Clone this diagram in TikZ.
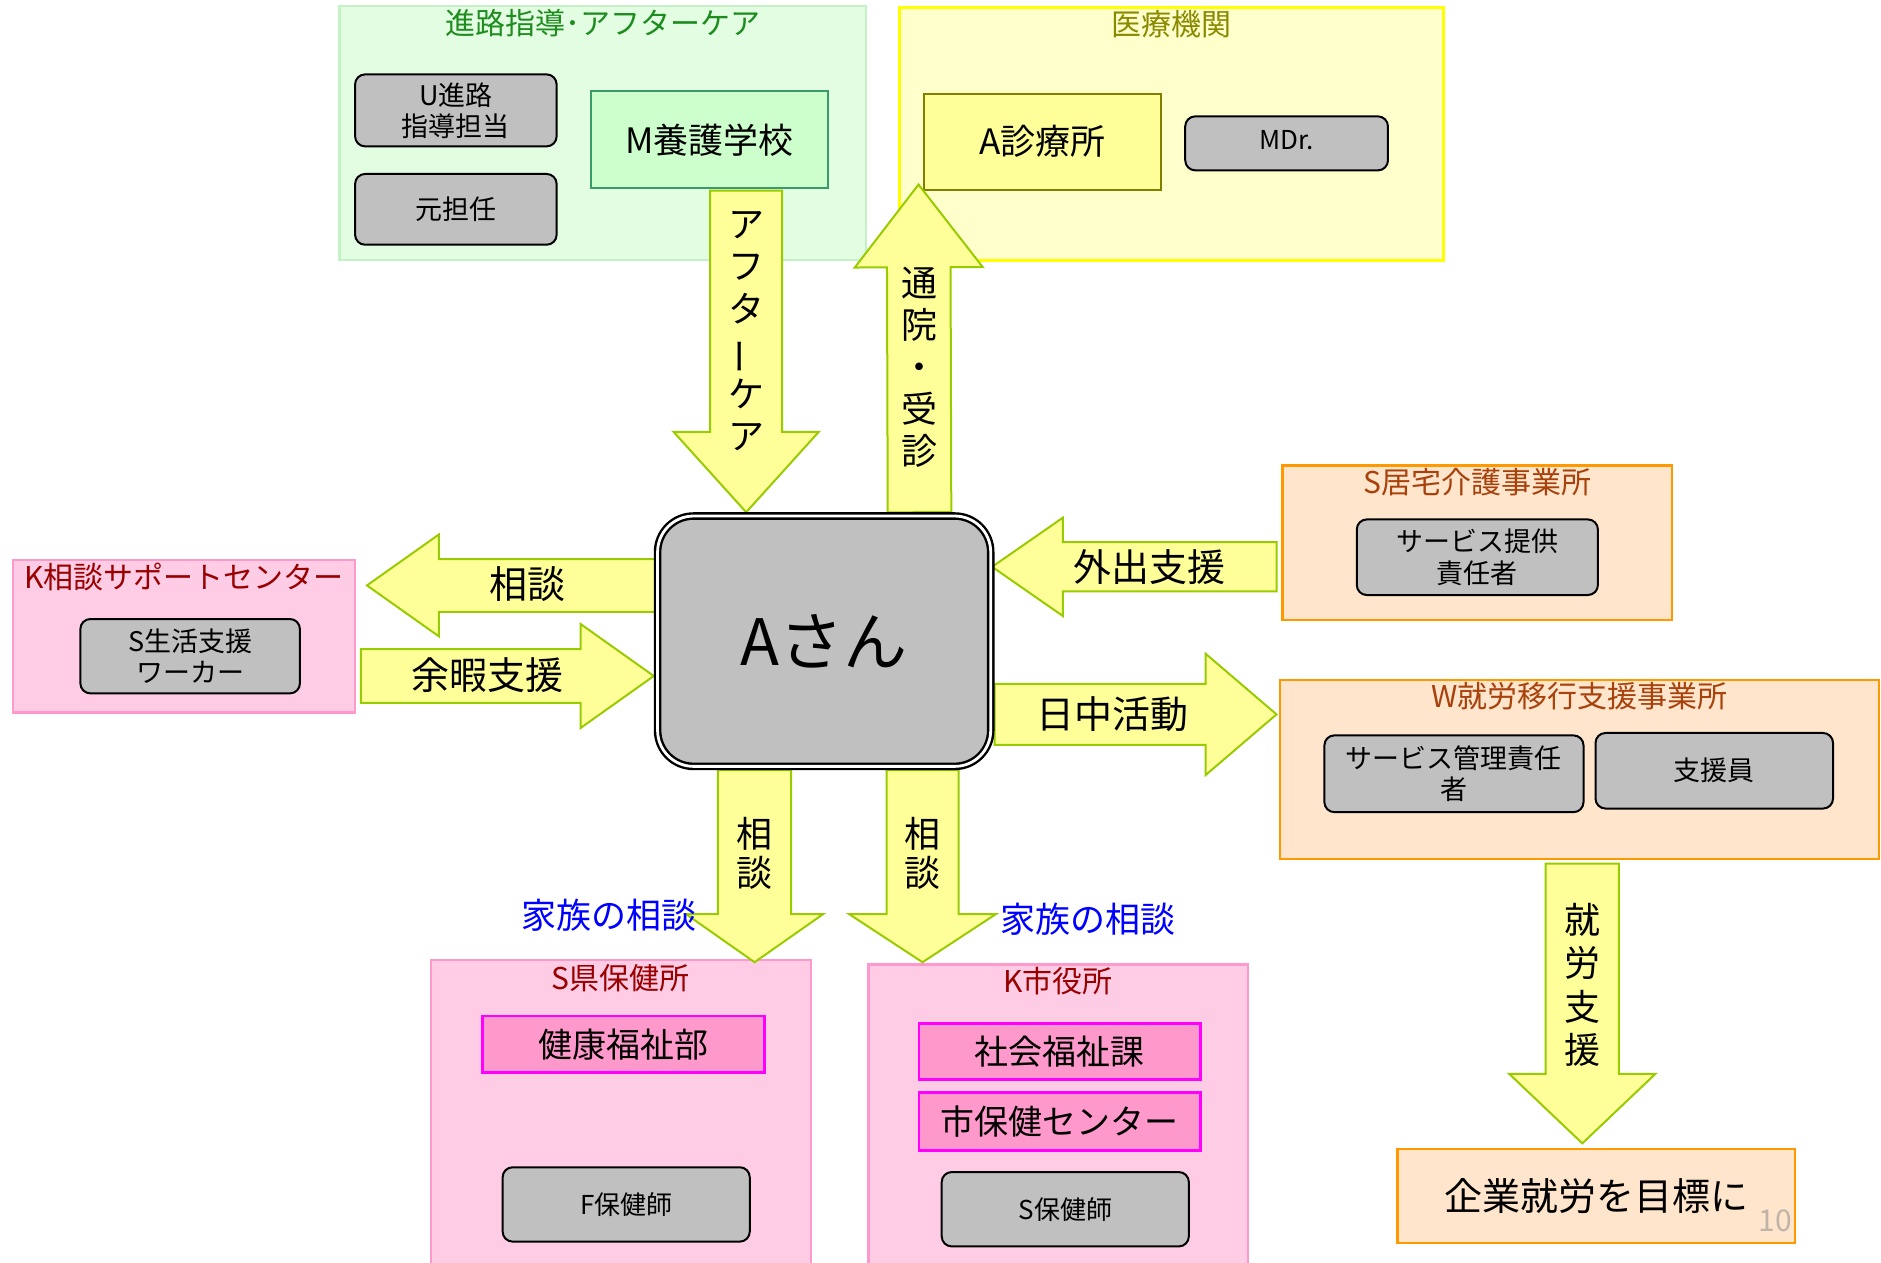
\documentclass[tikz,border=0pt]{standalone}
\usepackage{fontspec}
\setmainfont{Noto Sans CJK JP}
\usetikzlibrary{calc}
\pgfdeclarelayer{front}
\pgfsetlayers{main,front}
\definecolor{arrfill}{HTML}{FFFF99}
\definecolor{arrdraw}{HTML}{99CC00}
\definecolor{grayfill}{HTML}{C0C0C0}
\definecolor{grnfill}{HTML}{E3FDE3}
\definecolor{grndraw}{HTML}{C4F2C4}
\definecolor{grntitle}{HTML}{1E8C1E}
\definecolor{mfill}{HTML}{CCFFCC}
\definecolor{mdraw}{HTML}{3A9A6A}
\definecolor{ylwfill}{HTML}{FFFFCC}
\definecolor{ylwdraw}{HTML}{FFFF00}
\definecolor{ylwtitle}{HTML}{8A8A00}
\definecolor{clinfill}{HTML}{FFFF99}
\definecolor{clindraw}{HTML}{808000}
\definecolor{pnkfill}{HTML}{FFCCE5}
\definecolor{pnkdraw}{HTML}{FF99CC}
\definecolor{pnktitle}{HTML}{990000}
\definecolor{magfill}{HTML}{FF99CC}
\definecolor{magdraw}{HTML}{FF00FF}
\definecolor{pchfill}{HTML}{FFE5CC}
\definecolor{pchdraw}{HTML}{FF9900}
\definecolor{pchtitle}{HTML}{A8420C}
\definecolor{famblue}{HTML}{0000FF}
\definecolor{pgnum}{HTML}{C0B4A8}
\newcommand\blockarrow[6]{%
  \coordinate (#6-h) at ($(#2)!#5!(#1)$);
  \draw[barrow] ($(#1)!#3!90:(#2)$) -- ($(#6-h)!#3!90:(#2)$) -- ($(#6-h)!#4!90:(#2)$) -- (#2)
    -- ($(#6-h)!#4!-90:(#2)$) -- ($(#6-h)!#3!-90:(#2)$) -- ($(#1)!#3!-90:(#2)$) -- cycle;}
\begin{document}
\begin{tikzpicture}[x=0.6pt,y=-0.6pt,
  sz/.style 2 args={minimum width=#1*0.6pt,minimum height=#2*0.6pt},
  grp/.style={draw, line width=1.1pt, inner sep=0pt},
  gbox/.style={draw=black, fill=grayfill, rounded corners=5pt, line width=1pt, inner sep=0pt, align=center, font=\fontsize{13.5}{15.6}\selectfont},
  ttl/.style={inner sep=0pt, font=\fontsize{15}{18}\selectfont},
  lbl/.style={inner sep=0pt, font=\fontsize{19}{22}\selectfont},
  vlbl/.style={inner sep=0pt, align=center, font=\fontsize{18}{21.2}\selectfont},
  magbox/.style={draw=magdraw, fill=magfill, line width=1.4pt, inner sep=0pt, font=\fontsize{17}{20}\selectfont},
  barrow/.style={draw=arrdraw, fill=arrfill, line width=1pt, line join=miter},
]
\useasboundingbox (0,0) rectangle (1568,1052);
\fill[white] (0,0) rectangle (1568,1052);

% group: career guidance
\node[grp, draw=grndraw, fill=grnfill, sz={439}{212}] (G) at (502.5,111) {};
\node[ttl, text=grntitle] (Gt) at ($(G.north)+(0,15)$) {進路指導･アフターケア};
\node[gbox, sz={168}{60}] (U) at (380,92) {U進路\\指導担当};
\node[gbox, sz={168}{59}] (T) at (380,174.5) {元担任};
\node[draw=mdraw, fill=mfill, line width=1pt, inner sep=0pt, sz={197}{81}, font=\fontsize{17.5}{20}\selectfont] (M) at (591.5,116.5) {M養護学校};

% group: medical
\node[grp, draw=ylwdraw, fill=ylwfill, line width=1.4pt, sz={453}{211}] (Y) at (976.5,111.5) {};
\node[ttl, text=ylwtitle] (Yt) at ($(Y.north)+(0,15)$) {医療機関};
\node[draw=clindraw, fill=clinfill, line width=1pt, inner sep=0pt, sz={198}{80}, font=\fontsize{17.5}{20}\selectfont] (C) at (869,118) {A診療所};
\node[gbox, sz={169}{45}, font=\fontsize{13}{15}\selectfont] (Dr) at (1072.5,119.5) {\raisebox{3pt}{MDr.}};

% group: K support center
\node[grp, draw=pnkdraw, fill=pnkfill, sz={285}{127}] (K) at (153.5,530.5) {};
\node[ttl, text=pnktitle] (Kt) at ($(K.north)+(0,15)$) {K相談サポートセンター};
\node[gbox, sz={183}{62}] (SW) at (158.5,547) {S生活支援\\ワーカー};

% group: home care
\node[grp, draw=pchdraw, fill=pchfill, sz={325}{129}] (SK) at (1231.5,452.5) {};
\node[ttl, text=pchtitle] (SKt) at ($(SK.north)+(0,15)$) {S居宅介護事業所};
\node[gbox, sz={201}{63}] (SP) at (1231.5,464.5) {サービス提供\\責任者};

% group: W employment
\node[grp, draw=pchdraw, fill=pchfill, sz={499}{149}] (W) at (1316.5,641.5) {};
\node[ttl, text=pchtitle] (Wt) at ($(W.north)+(0,14)$) {W就労移行支援事業所};
\node[gbox, sz={216}{64}] (SM) at (1212,645) {サービス管理責任\\者};
\node[gbox, sz={198}{63}] (SE) at (1429,642.5) {支援員};

% group: S prefecture health center
\node[grp, draw=pnkdraw, fill=pnkfill, sz={317}{264}] (SH) at (517.5,932) {};
\node[ttl, text=pnktitle] (SHt) at ($(SH.north)+(0,16)$) {S県保健所};
\node[magbox, sz={235}{47}] (KF) at (519.5,870.5) {健康福祉部};
\node[gbox, sz={206}{62}, font=\fontsize{13}{15}\selectfont] (FH) at (522,1004) {F保健師};

% group: K city hall
\node[grp, draw=pnkdraw, fill=pnkfill, sz={316}{260}] (KC) at (882,934) {};
\node[ttl, text=pnktitle] (KCt) at ($(KC.north)+(0,15)$) {K市役所};
\node[magbox, sz={235}{47}] (SF) at (883.5,876.5) {社会福祉課};
\node[magbox, sz={235}{48}] (HC) at (883.5,935) {市保健センター};
\node[gbox, sz={206}{62}, font=\fontsize{13}{15}\selectfont] (SHN) at (888,1008) {S保健師};

% goal
\node[grp, draw=pchdraw, fill=pchfill, sz={331}{78}, font=\fontsize{19}{22}\selectfont] (E) at (1330.5,997) {企業就労を目標に};
\node[inner sep=0pt, text=pgnum, font=\fontsize{15}{18}\selectfont] (pg) at (1480,1018) {10};

% central person (front layer)
\begin{pgfonlayer}{front}
\node[draw=black, double=white, double distance=1.4pt, line width=1.2pt, fill=grayfill, rounded corners=18pt, sz={277.7}{208.7}, outer sep=1.9pt, inner sep=0pt, font=\fontsize{32}{38}\selectfont] (A) at (687,534.5) {Aさん};
\end{pgfonlayer}

% arrows
\coordinate (afS) at ($(M.south)+(30.5,1)$);
\coordinate (afT) at ($(A.north)+(-65,0)$);
\blockarrow{afS}{afT}{18pt}{36.3pt}{40.2pt}{af}
\node[vlbl] (afL) at (622,276) {ア\\フ\\タ\\\rotatebox[origin=c]{90}{ー}\\ケ\\ア};

\coordinate (tsS) at ($(A.north)+(79.5,0)$);
\coordinate (tsT) at ($(C.south west)+(-3.5,-5)$);
\blockarrow{tsS}{tsT}{15.9pt}{32pt}{41.4pt}{ts}
\node[vlbl, font=\fontsize{18}{21}\selectfont] (tsL) at (766.5,306.5) {通\\院\\・\\受\\診};

\coordinate (cS) at ($(A.west)+(3,-46.5)$);
\coordinate (cT) at ($(K.east)+(9,-42.5)$);
\blockarrow{cS}{cT}{13.2pt}{25.5pt}{36pt}{c}
\node[lbl] (cL) at (440,487) {相談};

\coordinate (yS) at ($(K.east)+(4,33)$);
\coordinate (yT) at ($(A.west)+(0,29)$);
\blockarrow{yS}{yT}{13.5pt}{26pt}{36.6pt}{y}
\node[lbl] (yL) at (406,563) {余暇支援};

\coordinate (gS) at ($(SK.west)+(-4,20)$);
\coordinate (gT) at ($(A.east)+(-2,-62)$);
\blockarrow{gS}{gT}{12.3pt}{24.6pt}{35.4pt}{g}
\node[lbl] (gL) at (958,473) {外出支援};

\coordinate (nS) at ($(A.east)+(0,61)$);
\coordinate (nT) at ($(W.west)+(-2,-46)$);
\blockarrow{nS}{nT}{15.3pt}{30.3pt}{35.4pt}{n}
\node[lbl] (nL) at (927,595) {日中活動};

\coordinate (b1S) at ($(A.south)+(-58,0)$);
\coordinate (b1T) at ($(SH.north)+(111.5,3)$);
\blockarrow{b1S}{b1T}{18.3pt}{34.2pt}{24pt}{b1}
\node[vlbl, font=\fontsize{18}{19.8}\selectfont] (b1L) at (629,711.5) {相\\談};

\coordinate (b2S) at ($(A.south)+(82,0)$);
\coordinate (b2T) at ($(KC.north)+(-113,-1)$);
\blockarrow{b2S}{b2T}{18pt}{36.6pt}{24pt}{b2}
\node[vlbl, font=\fontsize{18}{19.8}\selectfont] (b2L) at (769,711.5) {相\\談};

\node[inner sep=0pt, text=famblue, font=\fontsize{17.5}{20}\selectfont] (fam1) at (508,763) {家族の相談};
\node[inner sep=0pt, text=famblue, font=\fontsize{17.5}{20}\selectfont] (fam2) at (907,766) {家族の相談};

\coordinate (jS) at ($(W.south)+(2.5,3)$);
\coordinate (jT) at ($(E.north)+(-11.5,-4)$);
\blockarrow{jS}{jT}{18.3pt}{36.6pt}{34.8pt}{j}
\node[vlbl, font=\fontsize{18}{21.6}\selectfont] (jL) at (1319,821) {就\\労\\支\\援};
\end{tikzpicture}
\end{document}
